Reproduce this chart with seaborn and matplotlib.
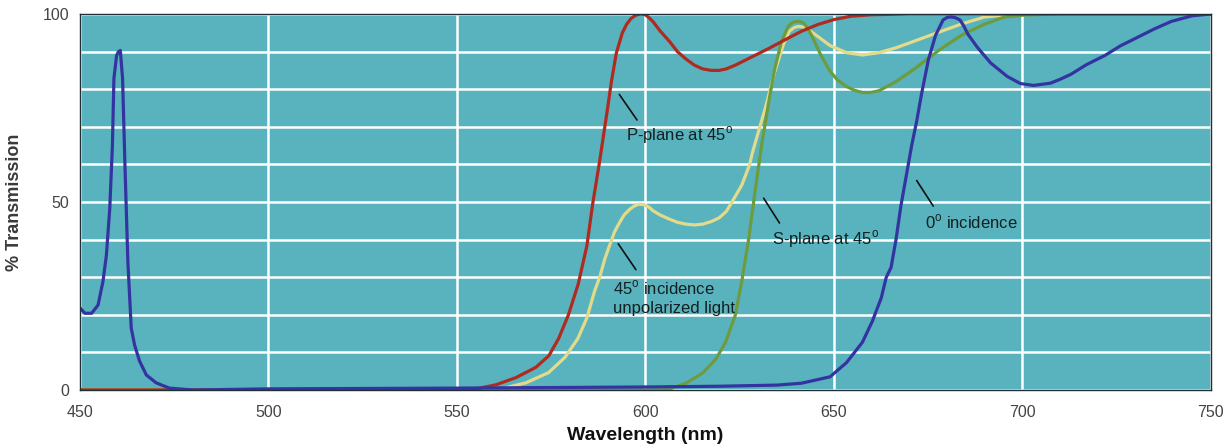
"""Transmission spectra of a filter at 0 and 45 degree incidence."""

import matplotlib
matplotlib.use("Agg")
import matplotlib.pyplot as plt
import seaborn as sns

# values (wavelength nm, % transmission)
p_plane_nm = [450, 550, 555.2, 560.4, 565.7, 570.9, 574.4, 577, 579.6, 582.2, 584.5, 586,
              587.9, 589.7, 591, 592.3, 593.9, 595, 596.2, 597.5, 598.8, 600, 601,
              602, 604, 606.5, 608.5, 610.8, 613, 615.2, 617.5,
              619.6, 621.5, 623.9, 628.3, 632.7, 637, 641.4, 645.8, 650, 654.5, 660, 670, 750]
p_plane_t = [0, 0, 0.3, 1.4, 3.3, 6.0, 9.1, 13.7, 20, 28.2, 38.4, 49.3,
             61, 73, 82, 89.6, 95, 97.2, 98.8, 99.7, 100, 99.8, 99,
             98, 95.4, 92.6, 90, 88, 86.4, 85.4, 85,
             85, 85.4, 86.4, 88.6, 90.8, 93.1, 95.4, 97.2, 98.5, 99.4, 99.8, 100, 100]

unpol_nm = [450, 560.4, 568.3, 574.3, 578.7, 582.1, 584.5, 586.6, 587.9, 589.2, 590.5,
            591.8, 593.2, 594.4, 595.8, 597, 598.3, 599.6, 601, 602, 604, 606.5, 608.5,
            610.8, 613, 615.2, 617.5, 619.6, 621.5, 623, 625.6,
            627.7, 628.3, 630.1, 632.2, 634.3, 636.6, 638.2, 639.5, 640.6, 642, 643.2,
            645.8, 649, 653.4, 657.6, 662, 666.5, 671.7, 677.7, 683.8, 690, 695.3, 700, 750]
unpol_t = [0, 0, 1.9, 4.6, 8.7, 13.7, 19.2, 26.5, 30, 34.7, 38.4,
           42, 44.6, 46.6, 48, 48.9, 49.4, 49.3, 48.6, 47.7, 46.5, 45.4, 44.6,
           44.1, 43.9, 44.1, 44.8, 45.8, 47.5, 50, 54.5,
           60, 62.7, 69, 76.3, 84.5, 91.8, 95.4, 96.4, 96.7, 96.5, 95.9,
           94, 91.6, 89.7, 89.1, 89.7, 91, 92.9, 95.1, 97.3, 99.2, 99.7, 100, 100]

s_plane_nm = [450, 602, 606.5, 610.8, 615.2, 618.7, 621.3, 623.9, 625.6, 627.4, 629.1,
              630.9, 632.7, 634.3, 636.1, 637.9, 639, 640, 641, 642.1, 643, 644, 645.2,
              646.6, 649, 651, 653.4, 655.5, 657.6, 659.8, 662, 666.5, 671.7, 677.7,
              683.8, 690, 695.3, 700.5, 710, 750]
s_plane_t = [0, 0, 0.3, 1.8, 4.5, 8.2, 12.7, 20, 29, 40, 52.7,
             65.4, 76.3, 85.3, 92.6, 96.7, 97.7, 98, 98, 97.5, 96.3, 94.5, 92,
             89, 84.8, 82.4, 80.7, 79.7, 79.1, 79.1, 79.6, 82, 85.6, 90.2,
             94.3, 97.3, 99.2, 99.7, 100, 100]

normal_nm = [450, 451.3, 453.1, 454.8, 456.1, 457, 457.9, 458.6, 459, 459.7, 460.2, 460.7,
             461.3, 461.9, 462.7, 463.6, 464.5, 465.8, 467.6, 470.2, 473.7, 480, 500,
             550, 600, 620, 635, 641.4, 645, 649, 653.4, 657.6, 660.2, 662.6, 663.9,
             665.2, 666.5, 667.8, 669.4, 670.7, 672, 673.3, 675.1, 677, 679, 680.1, 681.2,
             682.3, 683.5, 684.5, 685.6, 688.2, 691.6, 696, 699.5, 703, 707.5, 710, 713,
             717, 722, 726, 731, 735, 739.5, 745, 750]
normal_t = [21.8, 20.4, 20.4, 22.6, 28.9, 35.8, 48.3, 65, 82.8, 88.9, 90, 90.3,
            82.8, 60.7, 34.2, 16.4, 11.9, 7.7, 4, 1.9, 0.5, 0, 0.3,
            0.5, 0.8, 1.0, 1.3, 1.8, 2.6, 3.5, 7.3, 12.7, 18.2, 24.5, 29.9,
            32.6, 39.9, 48.9, 57.9, 65.2, 71.5, 78.8, 87.8, 94.3, 98.4, 99.1, 99.2,
            99, 98.4, 96.8, 94.6, 91, 87, 83.4, 81.5, 81, 81.6, 82.6, 84,
            86.5, 89, 91.5, 94, 96, 98, 99.5, 100]

x_ticks = [450, 500, 550, 600, 650, 700, 750]
y_ticks = [0, 10, 20, 30, 40, 50, 60, 70, 80, 90, 100]
y_tick_labels = ["0", "", "", "", "", "50", "", "", "", "", "100"]

# (label, text x, text y, leader line x0, y0, x1, y1)
notes = [
    ("P-plane at 45$^{\\rm o}$", 594.9, 67.7, 593.1, 78.6, 597.8, 71.8),
    ("45$^{\\rm o}$ incidence\nunpolarized light", 591.3, 24.6, 592.8, 38.9, 597.5, 32.0),
    ("S-plane at 45$^{\\rm o}$", 633.5, 40.0, 631.4, 51.0, 635.6, 44.4),
    ("0$^{\\rm o}$ incidence", 674.3, 44.8, 672.0, 55.7, 676.4, 48.9),
]

sns.set_theme(
    style="darkgrid",
    rc={
        "axes.facecolor": "#58b3bf",
        "grid.color": "white",
        "grid.linewidth": 1.8,
        "axes.edgecolor": "#1f2f33",
        "axes.linewidth": 1.0,
    },
)
plt.rcParams["font.family"] = ["Liberation Sans", "DejaVu Sans"]
plt.rcParams["mathtext.fontset"] = "custom"
plt.rcParams["mathtext.rm"] = "Liberation Sans"

fig = plt.figure(figsize=(12.25, 4.48), dpi=100)
ax = fig.add_axes([0.0653, 0.1295, 0.923, 0.8393])

lw = 2.3
sns.lineplot(x=unpol_nm, y=unpol_t, color="#e3da8a", linewidth=lw, ax=ax, sort=False)
sns.lineplot(x=s_plane_nm, y=s_plane_t, color="#6c9c3e", linewidth=lw, ax=ax, sort=False)
sns.lineplot(x=p_plane_nm, y=p_plane_t, color="#b02a1f", linewidth=lw, ax=ax, sort=False)
sns.lineplot(x=normal_nm, y=normal_t, color="#3434a0", linewidth=lw, ax=ax, sort=False)

for label, tx, ty, x0, y0, x1, y1 in notes:
    ax.plot([x0, x1], [y0, y1], color="#111111", lw=1.2)
    ax.text(tx, ty, label, fontsize=12, color="#14201f", va="center", ha="left",
            linespacing=1.35)

ax.set_xlim(450, 750)
ax.set_ylim(0, 100)
ax.set_xticks(x_ticks)
ax.set_yticks(y_ticks)
ax.set_yticklabels(y_tick_labels)
ax.tick_params(axis="both", length=0, labelsize=11.5, labelcolor="#444444")
ax.tick_params(axis="x", pad=11)
ax.tick_params(axis="y", pad=8)

ax.set_xlabel("Wavelength (nm)", fontsize=14, fontweight="bold", color="#111111", labelpad=5)
ax.set_ylabel("% Transmission", fontsize=13, fontweight="bold", color="#3a3a3a")
ax.yaxis.set_label_coords(-0.05, 0.5)
for side in ["top", "right", "left", "bottom"]:
    ax.spines[side].set_visible(True)

fig.savefig("out.png", dpi=100)
